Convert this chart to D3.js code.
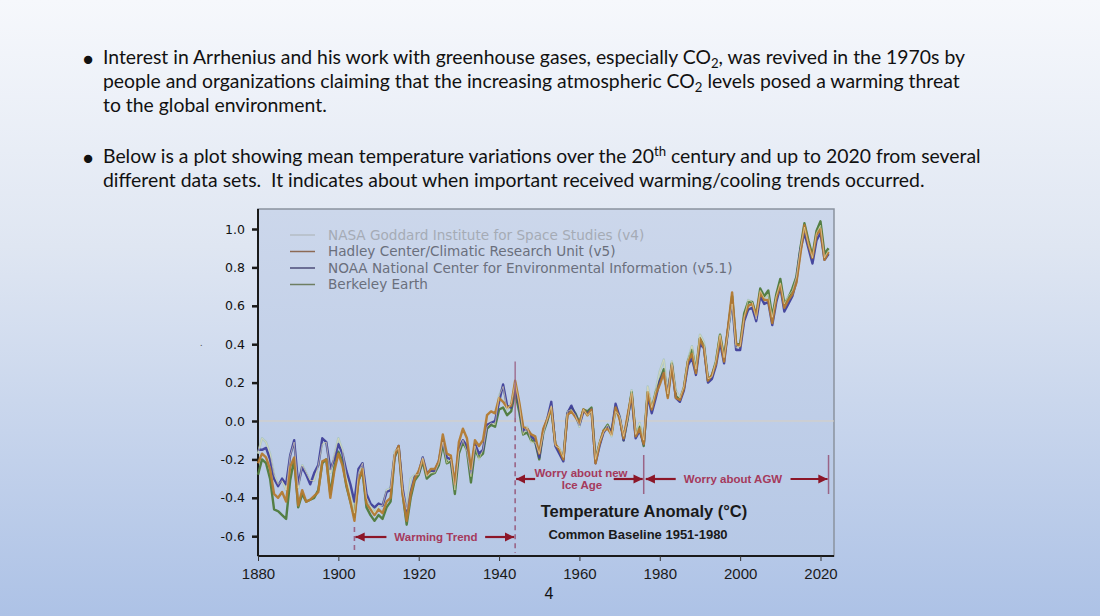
<!DOCTYPE html>
<html><head><meta charset="utf-8">
<script src="https://cdn.jsdelivr.net/npm/d3@7"></script>
<style>html,body{margin:0;padding:0;overflow:hidden;}svg{display:block;}</style>
</head><body>
<svg id="c" width="1100" height="616"></svg>
<script>
// ---------------- DATA ----------------
const startYear = 1880;
const seriesNames = [
  "NASA Goddard Institute for Space Studies (v4)",
  "Hadley Center/Climatic Research Unit (v5)",
  "NOAA National Center for Environmental Information (v5.1)",
  "Berkeley Earth"
];
const nasa = [
-0.17,-0.09,-0.11,-0.17,-0.28,-0.33,-0.31,-0.36,-0.18,-0.11,
-0.35,-0.23,-0.27,-0.31,-0.31,-0.23,-0.12,-0.11,-0.27,-0.18,
-0.09,-0.15,-0.29,-0.38,-0.48,-0.27,-0.22,-0.40,-0.44,-0.48,
-0.44,-0.44,-0.36,-0.35,-0.16,-0.14,-0.36,-0.46,-0.30,-0.28,
-0.28,-0.19,-0.29,-0.27,-0.27,-0.22,-0.11,-0.22,-0.20,-0.36,
-0.16,-0.10,-0.16,-0.29,-0.13,-0.20,-0.15,-0.03,-0.01,-0.02,
0.13,0.18,0.06,0.09,0.20,0.09,-0.07,-0.03,-0.11,-0.11,
-0.17,-0.07,0.01,0.08,-0.13,-0.14,-0.19,0.05,0.06,0.03,
-0.03,0.06,0.03,0.05,-0.20,-0.11,-0.06,-0.02,-0.08,0.05,
0.03,-0.08,0.01,0.16,-0.07,-0.01,-0.10,0.18,0.07,0.16,
0.26,0.32,0.14,0.31,0.16,0.12,0.18,0.32,0.39,0.27,
0.45,0.41,0.22,0.23,0.32,0.45,0.33,0.46,0.61,0.38,
0.39,0.54,0.63,0.62,0.53,0.68,0.64,0.66,0.54,0.65,
0.72,0.61,0.65,0.68,0.75,0.90,1.01,0.92,0.85,0.98,
1.02,0.85,0.89];
const hadley = [
-0.22,-0.17,-0.19,-0.25,-0.38,-0.40,-0.37,-0.42,-0.24,-0.19,
-0.44,-0.36,-0.42,-0.41,-0.39,-0.37,-0.21,-0.20,-0.40,-0.26,
-0.17,-0.23,-0.33,-0.42,-0.52,-0.31,-0.25,-0.43,-0.46,-0.49,
-0.46,-0.48,-0.42,-0.40,-0.18,-0.13,-0.38,-0.52,-0.38,-0.30,
-0.26,-0.20,-0.28,-0.25,-0.25,-0.21,-0.07,-0.17,-0.18,-0.33,
-0.11,-0.04,-0.09,-0.25,-0.10,-0.13,-0.10,0.03,0.05,0.04,
0.12,0.10,0.07,0.08,0.21,0.10,-0.03,-0.04,-0.07,-0.08,
-0.17,-0.04,0.01,0.07,-0.12,-0.15,-0.20,0.03,0.05,0.02,
-0.01,0.06,0.03,0.06,-0.22,-0.12,-0.05,-0.04,-0.07,0.07,
0.01,-0.09,0.03,0.14,-0.08,-0.04,-0.12,0.15,0.06,0.14,
0.19,0.25,0.12,0.29,0.12,0.11,0.17,0.31,0.35,0.25,
0.43,0.38,0.21,0.24,0.30,0.44,0.31,0.49,0.67,0.40,
0.39,0.54,0.60,0.61,0.55,0.67,0.63,0.63,0.51,0.64,
0.71,0.59,0.63,0.66,0.72,0.87,1.02,0.92,0.85,0.97,
1.00,0.84,0.88];
const noaa = [
-0.15,-0.15,-0.14,-0.20,-0.30,-0.34,-0.30,-0.33,-0.18,-0.10,
-0.33,-0.24,-0.28,-0.33,-0.27,-0.23,-0.09,-0.11,-0.25,-0.20,
-0.12,-0.17,-0.26,-0.33,-0.42,-0.25,-0.22,-0.38,-0.43,-0.45,
-0.43,-0.44,-0.37,-0.36,-0.18,-0.13,-0.35,-0.48,-0.37,-0.29,
-0.27,-0.19,-0.27,-0.26,-0.26,-0.21,-0.10,-0.19,-0.20,-0.33,
-0.14,-0.10,-0.13,-0.27,-0.12,-0.17,-0.15,-0.02,-0.01,0.00,
0.10,0.19,0.08,0.07,0.18,0.08,-0.05,-0.04,-0.08,-0.10,
-0.19,-0.05,0.01,0.10,-0.13,-0.17,-0.21,0.04,0.08,0.03,
-0.02,0.05,0.04,0.06,-0.22,-0.13,-0.06,-0.03,-0.06,0.09,
0.02,-0.10,0.02,0.13,-0.09,-0.05,-0.12,0.13,0.04,0.12,
0.21,0.25,0.14,0.29,0.12,0.10,0.16,0.29,0.33,0.24,
0.40,0.38,0.20,0.22,0.29,0.41,0.30,0.48,0.63,0.37,
0.37,0.52,0.58,0.59,0.52,0.65,0.61,0.62,0.50,0.62,
0.70,0.57,0.61,0.65,0.73,0.89,0.98,0.90,0.82,0.94,
0.98,0.84,0.87];
const berkeley = [
-0.28,-0.20,-0.22,-0.30,-0.46,-0.47,-0.49,-0.51,-0.31,-0.20,
-0.45,-0.38,-0.42,-0.41,-0.40,-0.36,-0.22,-0.20,-0.38,-0.24,
-0.16,-0.21,-0.34,-0.42,-0.50,-0.31,-0.26,-0.45,-0.49,-0.52,
-0.49,-0.51,-0.45,-0.42,-0.19,-0.14,-0.38,-0.54,-0.40,-0.31,
-0.28,-0.21,-0.30,-0.28,-0.27,-0.23,-0.12,-0.22,-0.21,-0.38,
-0.17,-0.11,-0.15,-0.32,-0.15,-0.19,-0.17,-0.04,-0.02,-0.03,
0.06,0.07,0.03,0.05,0.15,0.05,-0.07,-0.06,-0.10,-0.11,
-0.20,-0.06,0.00,0.07,-0.12,-0.16,-0.20,0.04,0.07,0.04,
-0.01,0.06,0.05,0.07,-0.20,-0.12,-0.05,-0.02,-0.06,0.07,
0.02,-0.10,0.01,0.15,-0.08,-0.03,-0.13,0.15,0.06,0.15,
0.21,0.27,0.13,0.30,0.13,0.11,0.17,0.31,0.37,0.26,
0.43,0.39,0.21,0.24,0.31,0.45,0.33,0.48,0.65,0.40,
0.40,0.56,0.62,0.62,0.55,0.69,0.65,0.68,0.54,0.66,
0.74,0.61,0.64,0.69,0.75,0.90,1.03,0.94,0.86,0.99,
1.04,0.87,0.90];
const xTicks = [1880,1900,1920,1940,1960,1980,2000,2020];
const yTicks = [1.0,0.8,0.6,0.4,0.2,0.0,-0.2,-0.4,-0.6];
const periodYears = [1904, 1944, 1976, 2022];

// ---------------- DRAW ----------------
const svg = d3.select("#c");
const defs = svg.append("defs");
const bg = defs.append("linearGradient").attr("id","bg").attr("x1",0).attr("y1",0).attr("x2",0).attr("y2",1);
bg.append("stop").attr("offset","0%").attr("stop-color","#f6f8fc");
bg.append("stop").attr("offset","40%").attr("stop-color","#dfe6f2");
bg.append("stop").attr("offset","100%").attr("stop-color","#adc2e6");
const pg = defs.append("linearGradient").attr("id","pg").attr("x1",0).attr("y1",0).attr("x2",0).attr("y2",1);
pg.append("stop").attr("offset","0%").attr("stop-color","#ccd7eb");
pg.append("stop").attr("offset","100%").attr("stop-color","#b6c8e6");
const mk = defs.append("marker").attr("id","arr").attr("viewBox","0 0 10 10")
  .attr("refX",10).attr("refY",5).attr("markerWidth",4.2).attr("markerHeight",4.2)
  .attr("markerUnits","strokeWidth").attr("orient","auto");
mk.append("path").attr("d","M0,0L10,5L0,10Z").attr("fill","#8c1628");

svg.append("rect").attr("width",1100).attr("height",616).attr("fill","url(#bg)");

// Bullet text
const textFont = "Lato,'Open Sans','Noto Sans',sans-serif";
const tg = svg.append("g").attr("font-family",textFont).attr("fill","#111");
const bodyLines = [];
function line(y, parts){
  const t = tg.append("text").attr("x",103).attr("y",y).attr("font-size",18);
  let pendingDy = 0;
  parts.forEach(p=>{
    if (typeof p === "string") {
      const s = t.append("tspan").text(p);
      if (pendingDy) { s.attr("dy", pendingDy); pendingDy = 0; }
    } else if (p.sub) {
      t.append("tspan").attr("font-size","0.68em").attr("dy",4).text(p.sub); pendingDy = -4;
    } else if (p.sup) {
      t.append("tspan").attr("font-size","0.68em").attr("dy",-7).text(p.sup); pendingDy = 7;
    }
  });
  bodyLines.push(t);
  return t;
}
tg.append("text").attr("x",83).attr("y",65).attr("font-size",17).text("●");
const l1 = line(64, ["Interest in Arrhenius and his work with greenhouse gases, especially CO",{sub:"2"},", was revived in the 1970s by"]);
line(88, ["people and organizations claiming that the increasing atmospheric CO",{sub:"2"}," levels posed a warming threat"]);
line(112, ["to the global environment."]);
tg.append("text").attr("x",83).attr("y",164).attr("font-size",17).text("●");
line(163, ["Below is a plot showing mean temperature variations over the 20",{sup:"th"}," century and up to 2020 from several"]);
line(187, ["different data sets.\u00a0 It indicates about when important received warming/cooling trends occurred."]);
const w1 = l1.node().getComputedTextLength();
const fs = 18 * 863 / w1;
bodyLines.forEach(t=>t.attr("font-size", fs));

// Chart
const x = d3.scaleLinear().domain([1880,2020]).range([258,820.5]);
const y = d3.scaleLinear().domain([0,1]).range([421,229]);
const plot = {x0:258, x1:834, y0:209, y1:556};

svg.append("rect").attr("x",plot.x0).attr("y",plot.y0).attr("width",plot.x1-plot.x0).attr("height",plot.y1-plot.y0)
  .attr("fill","url(#pg)").attr("stroke","#8a929e").attr("stroke-width",1.5);
svg.append("line").attr("x1",plot.x0).attr("x2",plot.x1).attr("y1",y(0)).attr("y2",y(0))
  .attr("stroke","#d8cfc0").attr("stroke-width",1);

// Axes
const yAxis = svg.append("g").attr("transform",`translate(${plot.x0},0)`)
  .call(d3.axisLeft(y).tickValues(yTicks).tickFormat(d3.format(".1f")).tickSize(6).tickPadding(7));
yAxis.select(".domain").attr("d",`M0,${plot.y0}V${plot.y1}`).attr("stroke","#1a1a1a").attr("stroke-width",2);
yAxis.selectAll(".tick line").attr("stroke","#1a1a1a").attr("stroke-width",2.5);
yAxis.selectAll(".tick text").attr("font-family","'DejaVu Sans',Verdana,sans-serif").attr("font-size",12.5)
  .attr("fill","#111").text(d=> d<0 ? "-"+Math.abs(d).toFixed(1) : d.toFixed(1));

const xAxis = svg.append("g").attr("transform",`translate(0,${plot.y1})`)
  .call(d3.axisBottom(x).tickValues(xTicks).tickFormat(d3.format("d")).tickSize(5).tickPadding(7));
xAxis.select(".domain").attr("d",`M${plot.x0},0H${plot.x1}`).attr("stroke","#1a1a1a").attr("stroke-width",2);
xAxis.selectAll(".tick line").attr("stroke","#333").attr("stroke-width",1);
xAxis.selectAll(".tick text").attr("font-family","'Liberation Sans',Arial,sans-serif").attr("font-size",15).attr("fill","#1a1a1a");

// Series lines
const series = [
  {name:seriesNames[0], vals:nasa,     color:"#a9c6c2", legendLine:"#b4bcc4", legendText:"#a5abb5"},
  {name:seriesNames[3], vals:berkeley, color:"#4e7a3c", legendLine:"#6e7e62", legendText:"#6a6f7c"},
  {name:seriesNames[2], vals:noaa,     color:"#40409a", legendLine:"#4c4c78", legendText:"#6a6f7c"},
  {name:seriesNames[1], vals:hadley,   color:"#b37a30", legendLine:"#8c6a55", legendText:"#6a6f7c"}
];
const lineGen = d3.line().x((d,i)=>x(startYear+i)).y(d=>y(d));
series.forEach(s=>{
  svg.append("path").datum(s.vals).attr("d",lineGen).attr("fill","none")
    .attr("stroke",s.color).attr("stroke-width",2.4).attr("stroke-linejoin","round").attr("opacity",0.95);
});
svg.append("path").datum(nasa).attr("d",lineGen).attr("fill","none")
  .attr("stroke","#e8dcb4").attr("stroke-width",0.9).attr("opacity",0.7);

// Legend
const legendOrder = [series[0], series[3], series[2], series[1]];
const lg = svg.append("g").attr("font-family","'DejaVu Sans',Verdana,sans-serif").attr("font-size",13.6);
legendOrder.forEach((s,i)=>{
  const yy = 235 + i*16.5;
  lg.append("line").attr("x1",290).attr("x2",315).attr("y1",yy).attr("y2",yy).attr("stroke",s.legendLine).attr("stroke-width",1.5);
  lg.append("text").attr("x",328).attr("y",yy+4.8).attr("fill",s.legendText).text(s.name);
});

// Annotations
const ann = svg.append("g");
const aCol = "#8c1628", tCol = "#a53a5c", vCol = "#9a6486";
const [yWarm, yIce, yCool, yEnd] = periodYears;
ann.append("line").attr("x1",x(yIce)).attr("x2",x(yIce)).attr("y1",y(0.31)).attr("y2",y(0.02))
  .attr("stroke",vCol).attr("stroke-width",1.3);
ann.append("line").attr("x1",x(yIce)).attr("x2",x(yIce)).attr("y1",y(0.02)).attr("y2",plot.y1-3)
  .attr("stroke",vCol).attr("stroke-width",1.6).attr("stroke-dasharray","5,4");
ann.append("line").attr("x1",x(yWarm)).attr("x2",x(yWarm)).attr("y1",527).attr("y2",plot.y1-3)
  .attr("stroke",vCol).attr("stroke-width",1.6).attr("stroke-dasharray","5,4");
[yCool, yEnd].forEach(yr=>{
  ann.append("line").attr("x1",x(yr)).attr("x2",x(yr)).attr("y1",455).attr("y2",494)
    .attr("stroke",vCol).attr("stroke-width",1.5);
});
function arrowTo(from, to, yy){
  ann.append("line").attr("x1",from).attr("x2",to).attr("y1",yy).attr("y2",yy)
    .attr("stroke",aCol).attr("stroke-width",2.2).attr("marker-end","url(#arr)");
}
arrowTo(x(yWarm)+32, x(yWarm)+1, 537);
arrowTo(x(yIce)-30, x(yIce)-1, 537);
arrowTo(x(yIce)+20, x(yIce)+1, 479);
arrowTo(x(yCool)-30, x(yCool)-1, 479);
arrowTo(x(yCool)+32, x(yCool)+2, 479);
arrowTo(x(yEnd)-38, x(yEnd)-1, 479);

const at = ann.append("g").attr("font-family","'Liberation Sans',Arial,sans-serif").attr("font-weight","bold")
  .attr("font-size",11.5).attr("fill",tCol).attr("text-anchor","middle");
at.append("text").attr("x",436).attr("y",541).text("Warming Trend");
at.append("text").attr("x",581).attr("y",477).text("Worry about new");
at.append("text").attr("x",582).attr("y",489).text("Ice Age");
at.append("text").attr("x",733).attr("y",483).text("Worry about AGW");

const tt = svg.append("g").attr("font-family","'Liberation Sans',Arial,sans-serif").attr("font-weight","bold").attr("fill","#1a1a1a");
tt.append("text").attr("x",644).attr("y",517).attr("font-size",16.5).attr("text-anchor","middle").text("Temperature Anomaly (°C)");
tt.append("text").attr("x",638).attr("y",539).attr("font-size",13).attr("text-anchor","middle").text("Common Baseline 1951-1980");

svg.append("text").attr("x",200).attr("y",346).attr("font-size",10).attr("fill","#555").text(".");
svg.append("text").attr("x",549).attr("y",599).attr("font-family","'Liberation Sans',Arial,sans-serif")
  .attr("font-size",16).attr("text-anchor","middle").attr("fill","#111").text("4");
</script>
</body></html>
